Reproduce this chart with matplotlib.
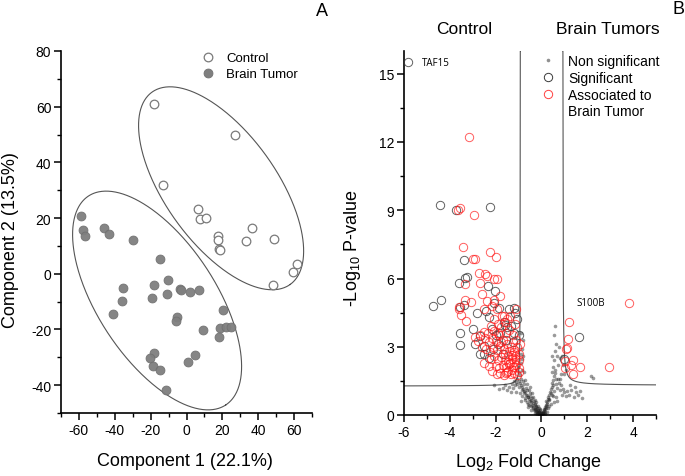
import numpy as np
import matplotlib
matplotlib.use('Agg')
import matplotlib.pyplot as plt
from matplotlib.ticker import MultipleLocator
from matplotlib.lines import Line2D

plt.rcParams['font.family'] = ['Liberation Sans', 'DejaVu Sans']
plt.rcParams['mathtext.fontset'] = 'custom'
plt.rcParams['mathtext.rm'] = 'Liberation Sans'
plt.rcParams['mathtext.it'] = 'Liberation Sans'
plt.rcParams['axes.unicode_minus'] = False

# ---------------- Panel A data (PCA scores) ----------------
control_pc1 = [-18.3, 27.2, -12.9, 6.6, 7.6, 10.9, 36.8, 17.5, 17.8, 18.2, 18.8, 33.3, 48.9, 48.5, 59.4, 61.6]
control_pc2 = [60.8, 50.0, 32.0, 23.2, 19.7, 19.9, 16.4, 13.6, 12.2, 8.9, 8.4, 11.6, 12.4, -4.0, 0.8, 3.5]

tumor_pc1 = [-58.7, -57.9, -56.6, -45.9, -43.2, -29.7, -14.7, -35.2, -35.8, -40.8, -18.1, -19.2, -10.1, -10.8,
             -3.6, -3.3, 2.0, 6.9, -5.4, -6.0, 20.1, 9.1, 18.8, 22.1, 24.9, 18.4, -18.1, -20.2, -18.8, -14.7,
             5.0, 1.1, -11.6]
tumor_pc2 = [20.8, 15.6, 13.7, 16.5, 14.3, 12.0, 5.4, -5.1, -9.7, -14.4, -4.2, -8.7, -2.4, -7.2,
             -5.5, -5.8, -6.6, -5.8, -15.7, -17.1, -12.9, -20.1, -19.3, -19.0, -19.0, -22.8, -28.3, -30.2, -33.3, -34.5,
             -29.2, -31.8, -41.6]

# confidence ellipses: centre (data), semi-axes (display px), angle (deg)
control_ellipse = (19.3, 30.7, 118.4, 55.6, -54.3)
tumor_ellipse = (-16.4, -9.6, 125.0, 59.0, -56.7)

# ---------------- Panel B data (volcano) ----------------
ns_x = [-0.05, -0.1, -0.15, -0.08, -0.2, -0.12, -0.25, -0.18, -0.3, -0.22, -0.35, -0.28, -0.4, -0.33, -0.45, -0.38,
        -0.5, -0.42, -0.55, -0.48, -0.6, -0.52, -0.65, -0.58, -0.7, -0.62, -0.75, -0.68, -0.8, -0.72, -0.85, -0.78,
        -0.9, -0.82, -0.95, -0.88, -1.0, -0.92, -1.05, -0.98, -1.1, -1.02, -0.9, -0.85, -1.15, -1.2, -1.25, -1.3,
        -1.4, -1.5, -1.6, -1.7, -1.85, -2.05, -1.35, -1.1, -0.95, -0.88, -0.6, -0.45, -0.3, -0.2, -0.82, -0.85,
        -0.8, -0.88, -0.83, -0.9, -0.78, -0.7, -0.65, -0.55, -0.5, -0.42, -0.35, -0.3, -0.25, -0.15, -0.1, -0.05,
        -0.02, -0.07, -0.13, -0.17, -0.23, -0.27, -0.37, -0.47, -0.57, -0.67, -0.77, -0.87, -0.97, -1.07,
        -0.04, -0.09, -0.14, -0.19, -0.24, -0.29, -0.34, -0.44, -0.54, -0.64, -0.74, -0.84,
        0.02, 0.05, 0.08, 0.1, 0.12, 0.15, 0.18, 0.2, 0.22, 0.25, 0.28, 0.3, 0.32, 0.35, 0.38, 0.4, 0.42, 0.45,
        0.48, 0.5, 0.52, 0.55, 0.58, 0.6, 0.62, 0.45, 0.5, 0.55, 0.48, 0.6, 0.62, 0.55, 0.58, 0.7, 0.75, 0.8,
        0.85, 0.9, 0.95, 1.0, 1.05, 1.1, 1.2, 1.3, 1.4, 1.5, 1.6, 1.7, 1.75, 1.45, 1.25, 2.15, 2.25, 0.65, 0.7,
        0.55, 0.5, 0.4, 0.35, 0.3, 0.25, 0.15, 0.72, 0.8, 0.85, 0.95, 0.9, 0.78, 0.82, 0.68, 1.0, 1.05,
        0.04, 0.09, 0.14, 0.19, 0.24, 0.34, 0.44, 0.54, 0.64, 0.74, 0.01, 0.06, 0.11, 0.16]
ns_y = [0.08, 0.12, 0.1, 0.2, 0.18, 0.05, 0.25, 0.3, 0.22, 0.4, 0.35, 0.5, 0.45, 0.6, 0.55, 0.3,
        0.62, 0.75, 0.7, 0.85, 0.8, 0.95, 0.9, 0.5, 1.0, 1.1, 1.05, 1.2, 1.15, 0.75, 1.25, 1.35,
        1.3, 1.5, 1.4, 1.6, 1.5, 1.75, 1.6, 1.9, 1.45, 2.1, 2.3, 2.0, 1.3, 1.5, 1.2, 1.35,
        1.25, 1.1, 1.3, 1.2, 1.15, 1.3, 1.0, 1.0, 0.95, 0.6, 0.35, 0.2, 0.1, 0.05, 2.6, 2.9,
        3.3, 3.6, 2.45, 2.7, 1.9, 1.55, 1.35, 1.1, 1.25, 0.95, 0.8, 0.65, 0.55, 0.4, 0.3, 0.25,
        0.15, 0.06, 0.16, 0.24, 0.33, 0.42, 0.52, 0.66, 0.78, 0.88, 0.98, 1.12, 1.22, 1.38,
        0.1, 0.14, 0.08, 0.12, 0.15, 0.28, 0.2, 0.38, 0.45, 0.58, 0.68, 0.82,
        0.05, 0.15, 0.1, 0.25, 0.2, 0.35, 0.3, 0.45, 0.6, 0.5, 0.7, 0.8, 0.65, 0.9, 1.0, 1.15, 0.95, 1.25,
        1.4, 1.3, 1.55, 1.7, 1.85, 2.0, 1.6, 1.9, 2.1, 2.4, 2.6, 2.8, 3.1, 3.5, 3.9, 1.2, 1.4, 1.1,
        1.3, 0.9, 1.15, 1.0, 0.85, 1.05, 0.9, 1.1, 0.8, 1.0, 0.9, 1.05, 0.75, 1.25, 1.3, 1.7, 1.62, 0.8, 0.6,
        0.55, 0.85, 0.5, 0.4, 0.3, 0.15, 0.05, 2.2, 2.5, 1.8, 2.2, 2.6, 3.0, 1.6, 2.6, 1.8, 2.0,
        0.08, 0.18, 0.28, 0.38, 0.55, 0.72, 0.88, 1.05, 1.35, 1.6, 0.04, 0.1, 0.07, 0.13]

sig_x = [-5.82, -4.42, -3.71, -2.26, -3.36, -3.59, -3.33, -3.26, -2.34, -2.02, -4.75, -4.4, -3.54, -2.8,
         -2.3, -2.05, -1.86, -1.43, -1.21, -1.14, -1.65, -1.5, -2.97, -3.56, -3.54, -2.88, -2.52, -2.49,
         1.63, 0.98, -2.42, -3.4, -2.67, -2.0, -1.8, -1.55, -1.2, -1.05, -1.35, -2.1, -1.7, -2.7, -2.3,
         -1.0, -1.25, -2.15, -1.9, -1.6]
sig_y = [15.5, 9.22, 9.0, 9.14, 6.8, 5.82, 6.04, 6.07, 5.65, 5.46, 4.77, 5.06, 4.73, 4.5,
         4.29, 4.94, 4.72, 4.65, 4.72, 4.5, 4.07, 3.85, 3.77, 3.6, 3.07, 3.12, 3.04, 2.68,
         3.41, 2.46, 4.57, 4.83, 3.47, 3.5, 3.6, 3.3, 3.6, 4.2, 3.9, 2.9, 2.7, 2.7, 2.5,
         3.5, 3.2, 3.8, 3.1, 3.95]

assoc_x = [-3.18, -3.65, -3.55, -2.93, -3.43, -2.98, -2.9, -2.25, -2.0, -3.33, -2.74, -2.67, -2.38, -2.09,
           -1.94, -1.79, -3.62, -3.5, -3.31, -3.33, -3.08, -2.6, -2.38, -2.09, -2.52, -2.16, -1.94, -1.1,
           -1.71, -1.5, -1.36, -2.9, -2.67, -2.52, -2.3, -3.59, -2.45,
           1.2, 1.15, 1.05, 1.1, 1.39, 1.3, 1.68, 1.39, 1.01, 1.01, 2.95, 3.82,
           -2.2, -2.05, -1.9, -1.75, -1.6, -2.3, -2.15, -2.0, -1.85, -1.7, -1.55, -1.4, -1.25, -1.1,
           -2.4, -2.25, -2.1, -1.95, -1.8, -1.65, -1.5, -1.35, -1.2, -1.05, -0.98, -2.2, -2.05, -1.9,
           -1.75, -1.6, -1.45, -1.3, -1.15, -1.0, -2.0, -1.85, -1.7, -1.55, -1.4, -1.25, -1.1, -0.97,
           -1.8, -1.65, -1.5, -1.35, -1.2, -1.05, -1.45, -1.3, -1.38, -1.22, -1.48, -1.6, -1.4, -1.3,
           -1.12, -1.55, -1.0, -1.75, -1.9, -2.45, -2.6, -2.75, -2.35, -2.05, -1.65, -1.15, -1.2, -0.95,
           -2.5, -2.15, -1.95]
assoc_y = [12.24, 9.0, 9.1, 8.8, 7.4, 6.84, 6.87, 7.17, 6.93, 5.75, 6.26, 5.82, 6.11, 5.97,
           5.97, 5.24, 4.73, 4.39, 4.14, 5.06, 4.95, 5.31, 5.02, 5.06, 4.65, 4.8, 4.65, 4.68,
           4.33, 4.21, 4.36, 3.45, 3.51, 3.63, 2.17, 4.68, 6.2,
           4.07, 3.33, 2.9, 2.95, 2.43, 2.19, 2.09, 1.82, 2.38, 2.05, 2.13, 4.93,
           3.9, 3.7, 4.0, 3.85, 4.1, 3.2, 3.4, 3.25, 3.5, 3.3, 3.6, 3.75, 3.5, 3.3,
           2.9, 2.75, 3.0, 2.85, 3.05, 2.9, 3.1, 3.0, 2.85, 3.0, 2.7, 2.45, 2.6, 2.4,
           2.55, 2.4, 2.6, 2.45, 2.6, 2.4, 2.15, 2.05, 2.2, 2.1, 2.25, 2.1, 2.2, 2.05,
           1.85, 1.75, 1.9, 1.8, 1.85, 1.75, 1.95, 2.0, 2.3, 2.35, 2.35, 2.7, 2.8, 2.65,
           2.45, 1.85, 1.9, 3.2, 3.6, 3.4, 3.0, 3.25, 3.6, 4.2, 4.35, 4.0, 2.75, 3.1,
           2.3, 1.95, 1.8]

labels_b = [('TAF15', -5.82, 15.5), ('S100B', 3.82, 4.93)]

# ---------------- Figure ----------------
W, H = 685, 477
fig = plt.figure(figsize=(W / 100, H / 100), dpi=100)

def fx(px):
    return px / W

def fy(py):
    return 1 - py / H

axA = fig.add_axes([fx(61), fy(414), (312 - 61) / W, (414 - 52) / H])
axB = fig.add_axes([fx(404), fy(416), (656 - 404) / W, (416 - 52) / H])

for ax in (axA, axB):
    ax.spines['top'].set_visible(False)
    ax.spines['right'].set_visible(False)
    ax.spines['left'].set_linewidth(1.2)
    ax.spines['bottom'].set_linewidth(1.2)
    ax.tick_params(which='major', direction='out', length=5, width=1.1, labelsize=10, pad=2)
    ax.tick_params(which='minor', direction='out', length=3, width=1.0)

# Panel A
axA.set_xlim(-70, 70)
axA.set_ylim(-50, 80)
axA.set_xticks(np.arange(-60, 61, 20))
axA.set_yticks(np.arange(-40, 81, 20))
axA.xaxis.set_minor_locator(MultipleLocator(10))
axA.yaxis.set_minor_locator(MultipleLocator(10))

axA.plot(control_pc1, control_pc2, 'o', ls='', ms=6.2, mfc='white', mec='#7a7a7a', mew=0.9, zorder=3)
axA.plot(tumor_pc1, tumor_pc2, 'o', ls='', ms=6.4, mfc='#7f7f7f', mec='#707070', mew=0.6, alpha=0.95, zorder=3)

bb = axA.get_window_extent()
sx = bb.width / 140.0
sy = bb.height / 130.0
t = np.linspace(0, 2 * np.pi, 500)
for cx, cy, a, b, ang in (control_ellipse, tumor_ellipse):
    th = np.deg2rad(ang)
    dx = a * np.cos(t) * np.cos(th) - b * np.sin(t) * np.sin(th)
    dy = a * np.cos(t) * np.sin(th) + b * np.sin(t) * np.cos(th)
    axA.plot(cx + dx / sx, cy + dy / sy, color='#555555', lw=0.8, zorder=2)

hA = [Line2D([], [], ls='', marker='o', ms=6.2, mfc='white', mec='#7a7a7a', mew=0.9),
      Line2D([], [], ls='', marker='o', ms=6.4, mfc='#7f7f7f', mec='#707070', mew=0.6)]
axA.legend(hA, ['Control', 'Brain Tumor'], loc='upper left', bbox_to_anchor=(fx(201), fy(53)),
           bbox_transform=fig.transFigure, frameon=False, fontsize=9.5, handlelength=1.0,
           handletextpad=0.9, labelspacing=0.3, borderpad=0, borderaxespad=0)

# Panel B
axB.set_xlim(-6, 5)
axB.set_ylim(0, 16)
axB.set_xticks(np.arange(-6, 5, 2))
axB.set_yticks(np.arange(0, 16, 3))
axB.xaxis.set_minor_locator(MultipleLocator(1))
axB.yaxis.set_minor_locator(MultipleLocator(1.5))

# threshold curves
xl = -(0.92 + np.geomspace(0.003, 5.08, 400))
yl = 1.27 + 0.05 / (np.abs(xl) - 0.92)
xr = 0.93 + np.geomspace(0.006, 4.07, 400)
yr = 1.30 + 0.10 / (xr - 0.93)
axB.plot(xl, np.minimum(yl, 16), color='#555555', lw=0.8, zorder=1)
axB.plot(xr, np.minimum(yr, 16), color='#555555', lw=0.8, zorder=1)

axB.plot(ns_x, ns_y, 'o', ls='', ms=2.6, mfc='#202020', mec='none', alpha=0.45, zorder=2)
axB.plot(sig_x, sig_y, 'o', ls='', ms=6.0, mfc='none', mec='#3a3a3a', mew=0.7, alpha=0.8, zorder=3)
axB.plot(assoc_x, assoc_y, 'o', ls='', ms=6.0, mfc='none', mec='#ff1a1a', mew=0.7, alpha=0.7, zorder=4)

for txt, x, y in labels_b:
    axB.annotate(txt, (x, y), xytext=(-38 if txt == 'S100B' else 10, 0), textcoords='offset points',
                 fontsize=7, family=['Open Sans', 'DejaVu Sans'], va='center', ha='left')

hB = [Line2D([], [], ls='', marker='o', ms=2.6, mfc='#909090', mec='none'),
      Line2D([], [], ls='', marker='o', ms=6.0, mfc='none', mec='#3a3a3a', mew=0.7),
      Line2D([], [], ls='', marker='o', ms=6.0, mfc='none', mec='#ff4040', mew=0.7),
      Line2D([], [], ls='', marker=None)]
axB.legend(hB, ['Non significant', 'Significant', 'Associated to', 'Brain Tumor'], loc='upper left',
           bbox_to_anchor=(fx(541), fy(55)), bbox_transform=fig.transFigure, frameon=False, fontsize=10,
           handlelength=1.0, handletextpad=0.95, labelspacing=0.2, borderpad=0, borderaxespad=0)

# Texts
fig.text(fx(185), fy(462), 'Component 1 (22.1%)', ha='center', va='center', fontsize=13)
fig.text(fx(11), fy(240), 'Component 2 (13.5%)', ha='center', va='center', fontsize=13, rotation=90)
fig.text(fx(528), fy(463), 'Log$_2$ Fold Change', ha='center', va='center', fontsize=13)
fig.text(fx(353), fy(248), '-Log$_{10}$ P-value', ha='center', va='center', fontsize=13, rotation=90)
fig.text(fx(464), fy(29), 'Control', ha='center', va='center', fontsize=12.5)
fig.text(fx(608), fy(29), 'Brain Tumors', ha='center', va='center', fontsize=12.5)
fig.text(fx(322), fy(11), 'A', ha='center', va='center', fontsize=13)
fig.text(fx(678), fy(10), 'B', ha='center', va='center', fontsize=13)

fig.savefig('out.png', dpi=100)
